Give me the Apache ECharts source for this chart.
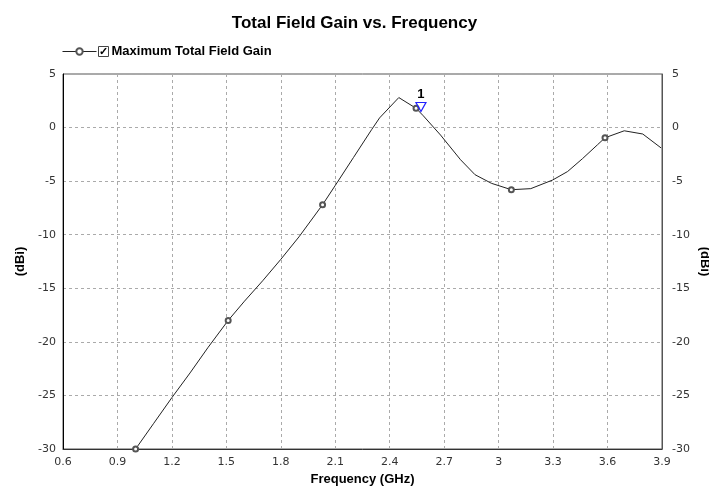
<!DOCTYPE html>
<html>
<head>
<meta charset="utf-8">
<script src="https://cdn.jsdelivr.net/npm/echarts@6/dist/echarts.min.js"></script>
<style>html,body{margin:0;padding:0;background:#fff}#c{width:709px;height:487px}</style>
</head>
<body>
<div id="c"></div>
<script>
var freqs = [1.0, 1.1, 1.2, 1.3, 1.4, 1.51, 1.6, 1.7, 1.8, 1.9, 2.03, 2.1, 2.2, 2.3, 2.344, 2.45, 2.545, 2.585, 2.68, 2.79, 2.87, 2.96, 3.07, 3.177, 3.297, 3.38, 3.462, 3.545, 3.586, 3.692, 3.794, 3.895];
var gains = [-30, -27.6, -25.2, -22.9, -20.5, -18.0, -16.2, -14.3, -12.3, -10.2, -7.2, -5.4, -2.8, -0.2, 0.9, 2.8, 1.8, 1.1, -0.7, -3.0, -4.4, -5.2, -5.8, -5.7, -4.9, -4.1, -2.9, -1.6, -0.95, -0.3, -0.6, -1.9];
var markerFreqs = [1.0, 1.51, 2.03, 2.545, 3.07, 3.586];
var marker1 = [2.572, 1.5];
var xTicks = {min: 0.6, max: 3.9, step: 0.3};
var yTicks = {min: -30, max: 5, step: 5};

var FONT = 'Liberation Sans, Arial, sans-serif';
var TICKFONT = 'DejaVu Sans, sans-serif';
var data = freqs.map(function (f, i) {
  return {
    value: [f, gains[i]],
    symbol: markerFreqs.indexOf(f) >= 0 ? 'emptyCircle' : 'none'
  };
});

var chart = echarts.init(document.getElementById('c'), null, {renderer: 'canvas'});
chart.setOption({
  animation: false,
  backgroundColor: '#fff',
  title: {
    text: 'Total Field Gain vs. Frequency',
    left: 'center', top: 10,
    textStyle: {fontFamily: FONT, fontSize: 17, fontWeight: 'bold', color: '#000'}
  },
  legend: {
    left: 57, top: 40,
    itemWidth: 34, itemHeight: 8, itemGap: 4,
    data: ['Maximum Total Field Gain'],
    itemStyle: {borderWidth: 0.8},
    lineStyle: {width: 1},
    formatter: function (name) { return '{box|✓}{name|' + name + '}'; },
    textStyle: {
      fontFamily: FONT, fontSize: 13, fontWeight: 'bold', color: '#000', padding: [0, 0, 0, -3],
      rich: {
        box: {width: 10, height: 10, borderColor: '#444', borderWidth: 1, align: 'center',
              fontSize: 11, fontWeight: 'bold', color: '#000', lineHeight: 10, padding: [0, 0, 0, 0]},
        name: {fontFamily: FONT, fontSize: 13, fontWeight: 'bold', color: '#000', padding: [0, 0, 0, 3]}
      }
    }
  },
  grid: {left: 63, right: 47, top: 74, bottom: 38, containLabel: false, outerBoundsMode: 'none',
         show: true, borderColor: '#555', borderWidth: 1},
  xAxis: {
    type: 'value', min: xTicks.min, max: xTicks.max, interval: xTicks.step,
    name: 'Frequency (GHz)', nameLocation: 'middle', nameGap: 23,
    nameTextStyle: {fontFamily: FONT, fontSize: 13, fontWeight: 'bold', color: '#000'},
    axisLine: {show: true, onZero: false, lineStyle: {color: '#333', width: 1}},
    axisTick: {show: false},
    axisLabel: {fontFamily: TICKFONT, fontSize: 11, color: '#333', margin: 8,
      formatter: function (v) { return String(Math.round(v * 10) / 10); }},
    splitLine: {show: true, lineStyle: {color: '#aaa', type: [3, 3], width: 1}}
  },
  yAxis: [{
    type: 'value', min: yTicks.min, max: yTicks.max, interval: yTicks.step, position: 'left',
    name: '(dBi)', nameLocation: 'middle', nameGap: 36,
    nameTextStyle: {fontFamily: FONT, fontSize: 13, fontWeight: 'bold', color: '#000'},
    axisLine: {show: true, onZero: false, lineStyle: {color: '#000', width: 1}},
    axisTick: {show: false},
    axisLabel: {fontFamily: TICKFONT, fontSize: 11, color: '#333', margin: 7},
    splitLine: {show: true, lineStyle: {color: '#aaa', type: [3, 3], width: 1}}
  }, {
    type: 'value', min: yTicks.min, max: yTicks.max, interval: yTicks.step, position: 'right',
    name: '(dBi)', nameLocation: 'middle', nameGap: 36, nameRotate: -90, nameMoveOverlap: false,
    nameTextStyle: {fontFamily: FONT, fontSize: 13, fontWeight: 'bold', color: '#000'},
    axisLine: {show: true, onZero: false, lineStyle: {color: '#555', width: 1}},
    axisTick: {show: false},
    axisLabel: {fontFamily: TICKFONT, fontSize: 11, color: '#333', margin: 10},
    splitLine: {show: false}
  }],
  series: [{
    name: 'Maximum Total Field Gain',
    type: 'line',
    data: data,
    symbol: 'emptyCircle',
    symbolSize: 5,
    showAllSymbol: true,
    color: '#555',
    lineStyle: {color: '#222', width: 1},
    itemStyle: {color: '#555', borderColor: '#555', borderWidth: 0.8},
    markPoint: {
      symbol: 'path://M0,0 L10,0 L5,10 Z',
      symbolSize: [10, 9],
      symbolOffset: [0, '-50%'],
      itemStyle: {color: 'rgba(0,0,0,0)', borderColor: '#2222ff', borderWidth: 1.2},
      label: {show: true, position: 'top', distance: 1, formatter: '1',
        fontFamily: FONT, fontSize: 13, fontWeight: 'bold', color: '#000'},
      data: [{coord: marker1}]
    }
  }]
});
</script>
</body>
</html>
